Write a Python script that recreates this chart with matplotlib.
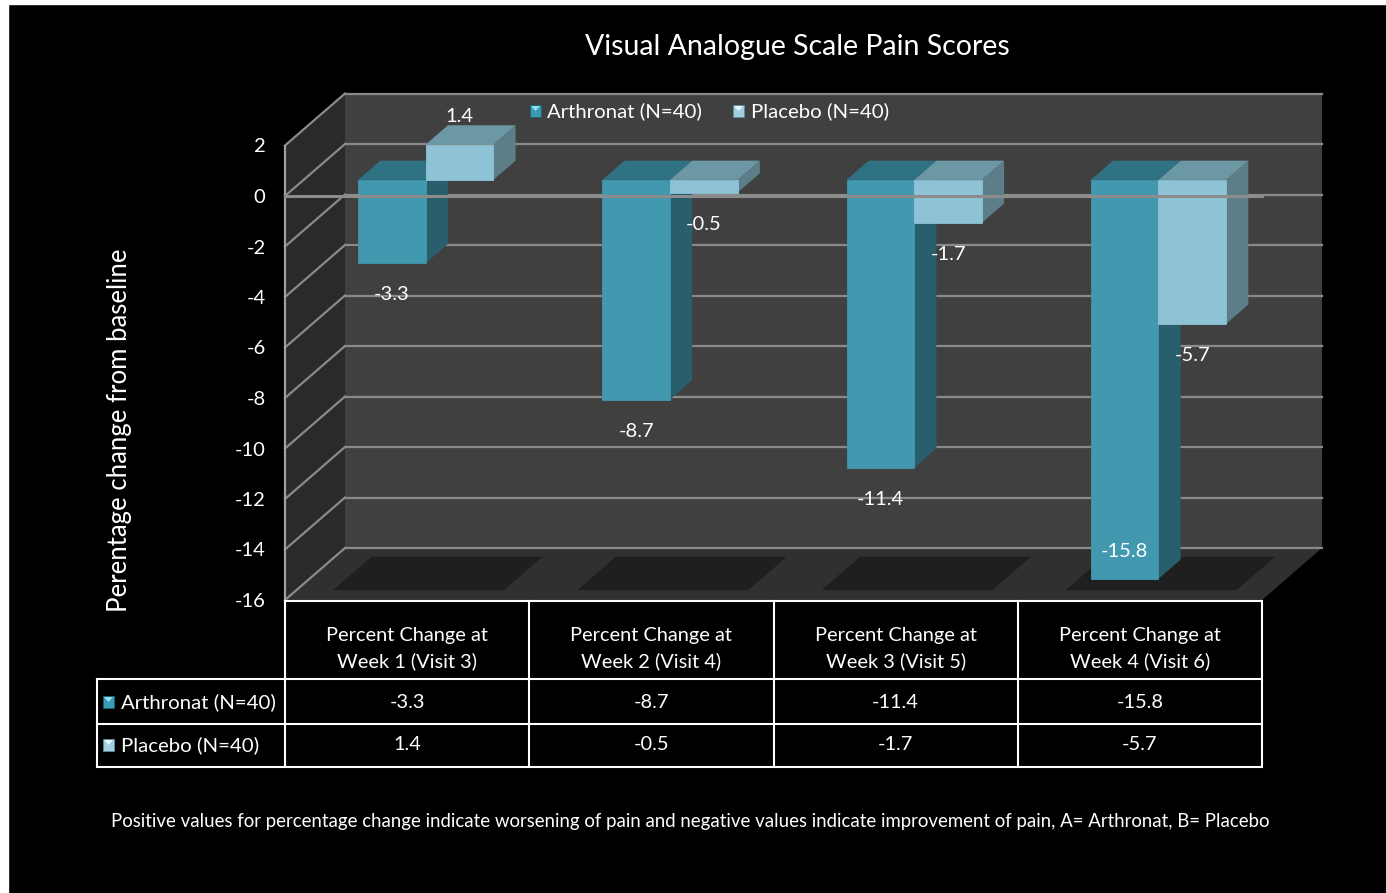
import matplotlib
matplotlib.use('Agg')
import matplotlib.pyplot as plt
import numpy as np
from matplotlib.patches import Polygon, Rectangle
from matplotlib.lines import Line2D
from matplotlib.transforms import offset_copy, IdentityTransform

# data
categories = ['Percent Change at\nWeek 1 (Visit 3)', 'Percent Change at\nWeek 2 (Visit 4)',
              'Percent Change at\nWeek 3 (Visit 5)', 'Percent Change at\nWeek 4 (Visit 6)']
series_names = ['Arthronat (N=40)', 'Placebo (N=40)']
arthronat = [-3.3, -8.7, -11.4, -15.8]
placebo = [1.4, -0.5, -1.7, -5.7]
y_ticks = list(range(2, -17, -2))

plt.rcParams['font.family'] = ['Lato', 'DejaVu Sans']

W, H = 1386, 893
fig = plt.figure(figsize=(W / 100, H / 100), dpi=100, facecolor='black')


def fx(px):
    return px / W


def fy(py):
    # py counted from the top of the picture
    return 1 - py / H


# front plane of the 3d box
ax = fig.add_axes([fx(285), fy(600), fx(1262) - fx(285), fy(145.5) - fy(600)])
ax.set_xlim(0, 4)
ax.set_ylim(-16, 2)
ax.patch.set_visible(False)
for s in ax.spines.values():
    s.set_visible(False)
ax.set_xticks([])
ax.set_yticks(y_ticks)
ax.set_yticklabels([str(t) for t in y_ticks])
ax.tick_params(axis='y', length=0, pad=14, labelcolor='white', labelsize=14.5)

fig.text(fx(120), fy(430), 'Perentage change from baseline', rotation=90, ha='center', va='center',
         color='white', fontsize=18.5)

DX, DY = 60, 52          # depth of the box in pixels
DF, DB = 0.31, 0.68      # front / back of the bars as share of depth
ident = IdentityTransform()


def pt(x, y, d):
    return ax.transData.transform((x, y)) + d * np.array([DX, DY])


def face(pts, color, z, ec='none', lw=0):
    ax.add_patch(Polygon(pts, closed=True, facecolor=color, edgecolor=ec, lw=lw,
                         transform=ident, clip_on=False, zorder=z))


def seg(p0, p1, color='#8a8a8a', lw=1.6, z=1):
    ax.add_line(Line2D([p0[0], p1[0]], [p0[1], p1[1]], color=color, lw=lw,
                       transform=ident, clip_on=False, zorder=z))


# walls and floor
face([pt(0, 2, 1), pt(4, 2, 1), pt(4, -16, 1), pt(0, -16, 1)], '#404040', 0.5)
face([pt(0, 2, 0), pt(0, 2, 1), pt(0, -16, 1), pt(0, -16, 0)], '#2a2a2a', 0.5)
face([pt(0, -16, 0), pt(4, -16, 0), pt(4, -16, 1), pt(0, -16, 1)], '#303030', 0.5)
for i in range(len(categories)):
    face([pt(i + 0.15, -16, 0.19), pt(i + 0.85, -16, 0.19),
          pt(i + 0.85, -16, 0.83), pt(i + 0.15, -16, 0.83)], '#1f1f1f', 0.6)

# grid
for v in y_ticks:
    seg(pt(0, v, 1), pt(4, v, 1))
    seg(pt(0, v, 0), pt(0, v, 1))
seg(pt(0, 2, 0), pt(0, -16, 0), color='#a0a0a0')

# bars
front_tr = offset_copy(ax.transData, fig=fig, x=DF * DX, y=DF * DY, units='dots')
w = 0.277
x = np.arange(len(categories)) + 0.5
colors = {
    0: ('#4198af', '#2e7284', '#295e6c'),
    1: ('#8ec3d6', '#6c98a5', '#5c7e89'),
}
for j, vals in enumerate([arthronat, placebo]):
    cx = x - w / 2 if j == 0 else x + w / 2
    fc, tc, sc = colors[j]
    bars = ax.bar(cx, vals, width=w, color=fc, edgecolor=fc, lw=0.6,
                  transform=front_tr, clip_on=False)
    for i, (b, v) in enumerate(zip(bars, vals)):
        z = 3 + (i * 2 + j) * 0.1
        b.set_zorder(z + 0.05)
        x0, x1 = cx[i] - w / 2, cx[i] + w / 2
        top, bot = max(v, 0), min(v, 0)
        face([pt(x1, top, DF), pt(x1, bot, DF), pt(x1, bot, DB), pt(x1, top, DB)], sc, z)
        face([pt(x0, top, DF), pt(x1, top, DF), pt(x1, top, DB), pt(x0, top, DB)], tc, z)
        if v >= 0 or v - 1.25 < -15:
            ly = v + 1.1
        else:
            ly = v - 1.25
        ax.text(cx[i], ly, f'{v:.1f}', transform=front_tr, ha='center', va='center',
                color='white', fontsize=14.5, zorder=30)

# zero line in front of the bars
seg(pt(0, 0, 0), pt(4, 0, 0), color='#8c8c8c', lw=2.2, z=20)
ax.set_xlim(0, 4)
ax.set_ylim(-16, 2)

# title and legend
fig.text(fx(797), fy(47), 'Visual Analogue Scale Pain Scores', ha='center', va='center',
         color='white', fontsize=20.5)


def marker(px, py, j):
    fc = '#3a9bb5' if j == 0 else '#9fcfe0'
    hc = '#8fe0f2' if j == 0 else '#e6f6fb'
    fig.add_artist(Rectangle((fx(px), fy(py + 6)), fx(11), 12 / H, transform=fig.transFigure,
                             facecolor=fc, edgecolor='#1d5f70' if j == 0 else '#5f8c99', lw=0.6))
    fig.add_artist(Polygon([(fx(px + 1), fy(py - 5)), (fx(px + 10), fy(py - 5)), (fx(px + 5.5), fy(py))],
                           closed=True, transform=fig.transFigure, facecolor=hc, edgecolor='none'))


for j, (mx, tx) in enumerate([(530, 547), (733, 751)]):
    marker(mx, 111, j)
    fig.text(fx(tx), fy(111), series_names[j], ha='left', va='center', color='white', fontsize=14.7)

# data table under the chart
cols = [ax.transData.transform((i, 0))[0] for i in range(len(categories) + 1)]
tw = dict(color='white', lw=1.5, transform=fig.transFigure)
fig.add_artist(Line2D([fx(cols[0]), fx(cols[-1])], [fy(601), fy(601)], **tw))
for yy in [679, 724, 767]:
    fig.add_artist(Line2D([fx(97), fx(cols[-1])], [fy(yy), fy(yy)], **tw))
fig.add_artist(Line2D([fx(97), fx(97)], [fy(679), fy(767)], **tw))
for c in cols:
    fig.add_artist(Line2D([fx(c), fx(c)], [fy(601), fy(767)], **tw))

for i, cat in enumerate(categories):
    cxp = (cols[i] + cols[i + 1]) / 2
    fig.text(fx(cxp), fy(649), cat, ha='center', va='center', color='white',
             fontsize=14.4, linespacing=1.55)
    for row_y, vals in [(702, arthronat), (745, placebo)]:
        fig.text(fx(cxp), fy(row_y), f'{vals[i]:.1f}', ha='center', va='center',
                 color='white', fontsize=14.4)

for j, row_y in enumerate([702, 745]):
    marker(103, row_y, j)
    fig.text(fx(121), fy(row_y), series_names[j], ha='left', va='center', color='white', fontsize=14.7)

fig.text(fx(690), fy(822), 'Positive values for percentage change indicate worsening of pain and negative '
         'values indicate improvement of pain, A= Arthronat, B= Placebo',
         ha='center', va='center', color='white', fontsize=13.4)

# white strips at the left and top edge of the picture
fig.add_artist(Rectangle((0, 0), fx(8), 1, transform=fig.transFigure, color='white', zorder=50))
fig.add_artist(Rectangle((0, fy(4)), 1, 4 / H, transform=fig.transFigure, color='white', zorder=50))

fig.savefig('out.png', dpi=100, facecolor='black')
